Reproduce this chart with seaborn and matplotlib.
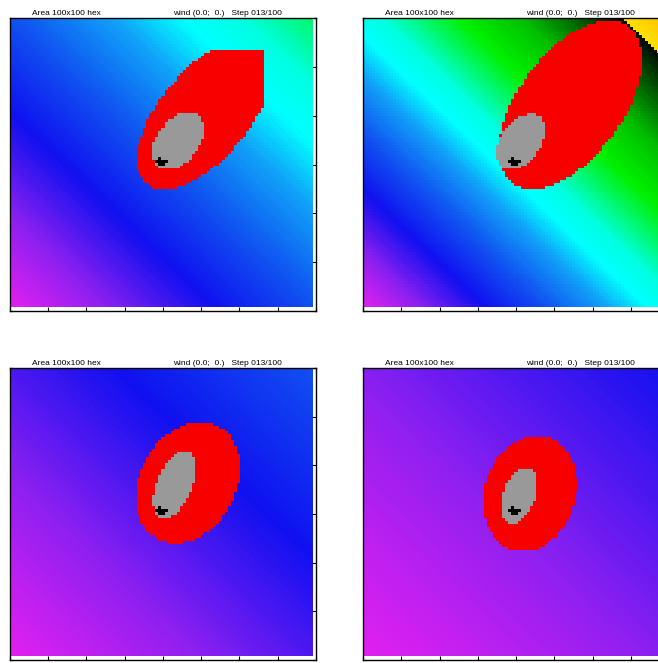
import numpy as np
import matplotlib
matplotlib.use("Agg")
import matplotlib.pyplot as plt
import seaborn as sns
from matplotlib.colors import LinearSegmentedColormap, ListedColormap

sns.set_style("white")
plt.rcParams['font.family'] = ['Liberation Sans', 'DejaVu Sans']

# grid size
N = 100

# terrain slope per panel (value at the top-right corner, bottom-left is 0)
slope_top = [0.60, 1.00, 0.30, 0.20]

# burning zone: centre x, centre y (y up), semi-major, semi-minor, angle (deg)
red_zone = [
    (64.5, 67.0, 31.0, 15.0, 52),
    (68.5, 70.0, 33.0, 17.5, 56),
    (58.8, 60.3, 22.0, 16.0, 65),
    (55.2, 56.5, 20.3, 15.0, 75),
]
# burnt out zone
gray_zone = [
    (55.5, 57.5, 11.0, 7.0, 55),
    (52.1, 57.3, 10.5, 6.5, 57),
    (54.4, 59.6, 12.3, 5.8, 69),
    (51.6, 55.8, 10.0, 5.2, 72),
]
# fuel limits seen on the first panel (max y, max x)
red_limit = [(89, 84), (101, 101), (101, 101), (101, 101)]

# ignition cells (col, row from top)
ignition = [(48, 49), (49, 49), (50, 49), (51, 49), (49, 50), (50, 50), (49, 48)]

title_left = "Area 100x100 hex"
title_right = "wind (0.0;  0.)   Step 013/100"

terrain_cmap = LinearSegmentedColormap.from_list("terrain", [
    (0.00, "#e020f0"),
    (0.09, "#9020f0"),
    (0.20, "#1010f0"),
    (0.30, "#1050f0"),
    (0.40, "#10a0f8"),
    (0.47, "#00ffff"),
    (0.53, "#00ffe0"),
    (0.66, "#00f000"),
    (0.76, "#00c000"),
    (0.88, "#004000"),
    (0.929, "#000800"),
    (0.93, "#ffe000"),
    (1.00, "#ffc000"),
])
fire_cmap = ListedColormap(["#999999", "#f80000", "#000000"])

cols, rows = np.meshgrid(np.arange(N), np.arange(N))
xc = cols + 0.5
yc = N - (rows + 0.5)


def inside(zone):
    cx, cy, a, b, ang = zone
    t = np.deg2rad(ang)
    dx, dy = xc - cx, yc - cy
    u = dx * np.cos(t) + dy * np.sin(t)
    v = -dx * np.sin(t) + dy * np.cos(t)
    return (u / a) ** 2 + (v / b) ** 2 <= 1


fig = plt.figure(figsize=(6.58, 6.63), dpi=100)
W, H = 658, 663
boxes = [(10, 18, 306, 293), (363, 18, 306, 293),
         (10, 368, 306, 292), (363, 368, 306, 292)]

for k, (px, py, pw, ph) in enumerate(boxes):
    ax = fig.add_axes([px / W, 1 - (py + ph) / H, pw / W, ph / H])
    terrain = slope_top[k] * (xc + yc) / (2 * N)
    sns.heatmap(terrain, ax=ax, cmap=terrain_cmap, vmin=0, vmax=1, cbar=False,
                linewidths=0, rasterized=True)

    fire = np.full((N, N), np.nan)
    ymax, xmax = red_limit[k]
    fire[inside(red_zone[k]) & (yc <= ymax) & (xc <= xmax)] = 1
    fire[inside(gray_zone[k])] = 0
    for c, r in ignition:
        fire[r, c] = 2
    sns.heatmap(fire, ax=ax, mask=np.isnan(fire), cmap=fire_cmap, vmin=-0.5,
                vmax=2.5, cbar=False, linewidths=0, rasterized=True)

    ax.set_xlim(0, 101)
    ax.set_ylim(101.3, 0)
    ax.set_xticks(np.linspace(0, 101, 9), labels=[])
    ax.set_yticks(np.linspace(0, 101.3, 7), labels=[])
    ax.tick_params(direction="in", length=3, width=0.8, color="black",
                   top=True, right=True, bottom=True, left=True)
    for s in ax.spines.values():
        s.set_visible(True)
        s.set_color("black")
        s.set_linewidth(1.0)
    ax.text(0.072, 1.004, title_left, transform=ax.transAxes, fontsize=6,
            va="bottom", ha="left", color="black")
    ax.text(0.533, 1.004, title_right, transform=ax.transAxes, fontsize=6,
            va="bottom", ha="left", color="black")

fig.savefig("out.png", dpi=100)
